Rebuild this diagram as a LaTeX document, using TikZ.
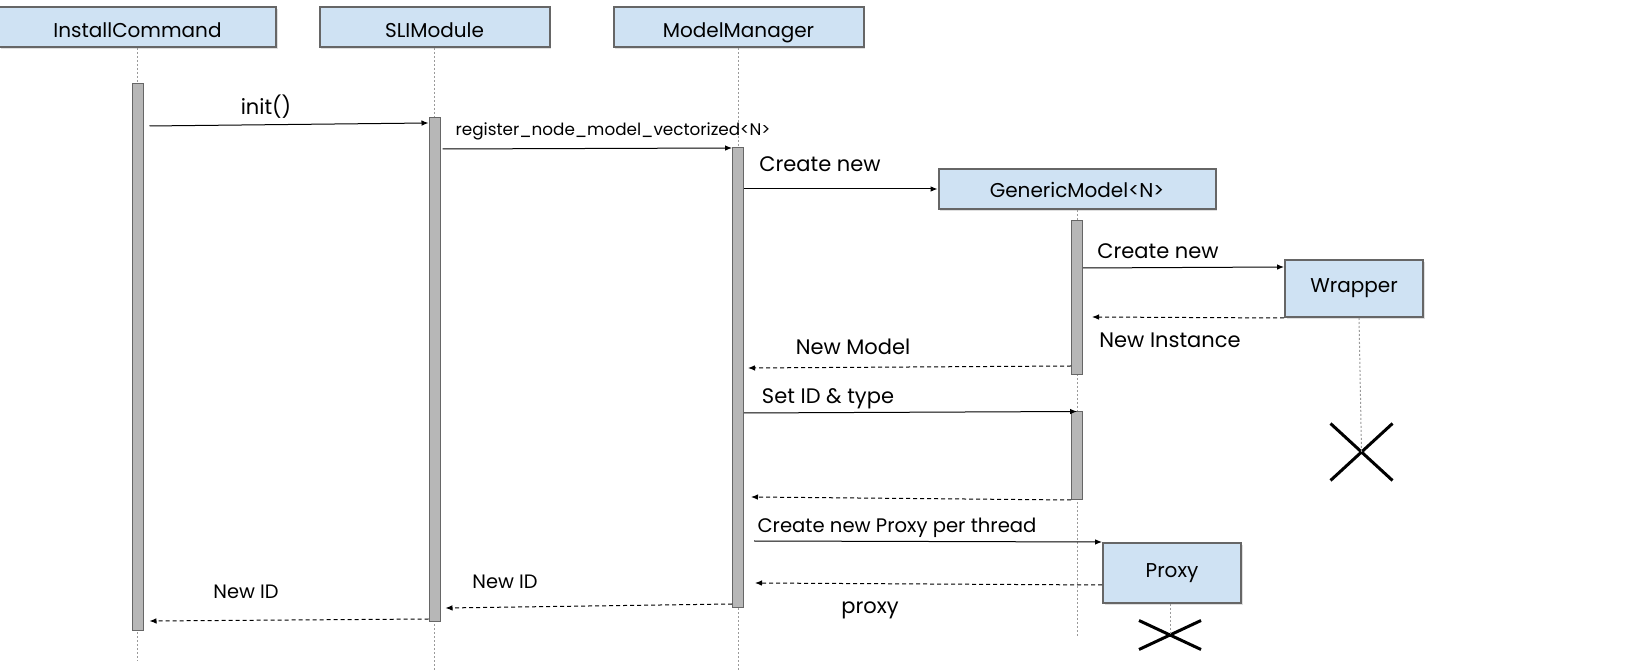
\documentclass[tikz,border=0pt]{standalone}
\usepackage{fontspec}
\setmainfont{Poppins}
\usetikzlibrary{arrows.meta,shapes.misc,shadows}

\definecolor{boxfill}{HTML}{CFE2F3}
\definecolor{boxline}{HTML}{666666}
\definecolor{barfill}{HTML}{B7B7B7}
\definecolor{lifegray}{HTML}{9A9A9A}

\tikzset{
  actor/.style={draw=boxline, fill=boxfill, line width=1pt, inner sep=0pt,
    minimum height=20pt, font=\fontsize{10}{12}\selectfont,
    drop shadow={shadow xshift=0.8pt, shadow yshift=-0.8pt, opacity=0.25}},
  toprow/.style={actor, text height=11pt, text depth=0pt},
  actbar/.style={draw=boxline, fill=barfill, line width=0.5pt, inner sep=0pt,
    minimum width=5.5pt},
  life/.style={draw=lifegray, line width=0.5pt, dash pattern=on 1pt off 1pt},
  msg/.style={-{Latex[length=3.5pt,width=2.8pt]}, line width=0.5pt},
  ret/.style={msg, dash pattern=on 2pt off 1.5pt},
  lbl/.style={inner sep=0pt, font=\fontsize{10.5}{12}\selectfont},
  kill/.style={cross out, draw=black, line width=1.5pt, inner sep=0pt}
}

\begin{document}
\begin{tikzpicture}[x=0.5pt,y=-0.5pt]
  \useasboundingbox[fill=white] (0,0) rectangle (1632,672);

  % participants
  \node[toprow, minimum width=138.5pt] (ic)  at (137.5,27) {InstallCommand};
  \node[toprow, minimum width=115pt]   (sli) at (434.5,27) {SLIModule};
  \node[toprow, minimum width=125pt]   (mm)  at (738.5,27) {ModelManager};
  \node[actor, minimum width=138.5pt, text height=9pt, text depth=0pt] (gm) at (1077,189) {GenericModel<N>};
  \node[actor, minimum width=69pt, minimum height=28.5pt] (wrap)  at (1354,288.5) {Wrapper};
  \node[actor, minimum width=69pt, minimum height=30pt]   (proxy) at (1172,573)   {Proxy};

  % end of life
  \node[kill, minimum width=29.5pt, minimum height=27pt] (wrapEnd)  at (1361.5,452) {};
  \node[kill, minimum width=29.5pt, minimum height=13pt] (proxyEnd) at (1170,635)   {};

  % lifelines
  \coordinate (icEnd)  at (137.5,661);
  \coordinate (sliEnd) at (434.5,672);
  \coordinate (mmEnd)  at (738,670);
  \coordinate (gmEnd)  at (1077,637);
  \draw[life] (ic.south)  -- (icEnd);
  \draw[life] (sli.south) -- (sliEnd);
  \draw[life] (mm.south -| mmEnd) -- (mmEnd);
  \draw[life] (gm.south)  -- (gmEnd);
  \draw[life] ([xshift=2.5pt]wrap.south) -- (wrapEnd.center);
  \draw[life] ([xshift=-1pt]proxy.south) -- (proxyEnd.center);

  % activations
  \node[actbar, minimum height=273.5pt] (barIC)  at (137.5,357.5) {};
  \node[actbar, minimum height=252pt]   (barSLI) at (434.5,370)   {};
  \node[actbar, minimum height=230pt]   (barMM)  at (738,378)     {};
  \node[actbar, minimum height=77pt]    (barGM)  at (1077,298)    {};
  \node[actbar, minimum height=44pt]    (barGM2) at (1077,456)    {};

  % messages
  \draw[msg] ([xshift=3pt]barIC.east |- 0,126) -- (barSLI.west |- 0,123);
  \draw[msg] ([xshift=1pt]barSLI.east |- 0,149) -- (barMM.west |- 0,148);
  \draw[msg] (barMM.east |- 0,189) -- (gm.west);
  \draw[msg] (barGM.east |- 0,268) -- (wrap.west |- 0,267);
  \draw[ret] (wrap.west |- 0,318) -- ([xshift=4.5pt]barGM.east |- 0,317);
  \draw[ret] (barGM.west |- 0,366) -- ([xshift=2pt]barMM.east |- 0,368);
  \draw[msg] (barMM.east |- 0,413) -- (barGM2.north);
  \draw[ret] (barGM2.west |- 0,500) -- ([xshift=3.5pt]barMM.east |- 0,497);
  \draw[msg] ([xshift=5pt]barMM.east |- 0,541) -- (proxy.north west);
  \draw[ret] (proxy.west |- 0,585) -- ([xshift=5.5pt]barMM.east |- 0,583);
  \draw[ret] (barMM.west |- 0,604) -- ([xshift=2.5pt]barSLI.east |- 0,608);
  \draw[ret] (barSLI.west |- 0,619) -- ([xshift=3pt]barIC.east |- 0,621);

  % labels
  \node[lbl] (lInit)    at (266,107)   {init()};
  \node[lbl, font=\fontsize{8.4}{10}\selectfont] (lReg) at (613,131) {register\_node\_model\_vectorized<N>};
  \node[lbl] (lNewGM)   at (820,164)   {Create new};
  \node[lbl] (lNewWrap) at (1158,251)  {Create new};
  \node[lbl] (lInst)    at (1170,340)  {New Instance};
  \node[lbl] (lModel)   at (853,347)   {New Model};
  \node[lbl] (lSetId)   at (828,399)   {Set ID \& type};
  \node[lbl, font=\fontsize{9.8}{12}\selectfont] (lNewPx) at (897,528) {Create new Proxy per thread};
  \node[lbl] (lProxy)   at (870,610)   {proxy};
  \node[lbl, font=\fontsize{9.7}{11}\selectfont] (lIdMM)  at (505,582) {New ID};
  \node[lbl, font=\fontsize{9.7}{11}\selectfont] (lIdSLI) at (246,592) {New ID};
\end{tikzpicture}
\end{document}
